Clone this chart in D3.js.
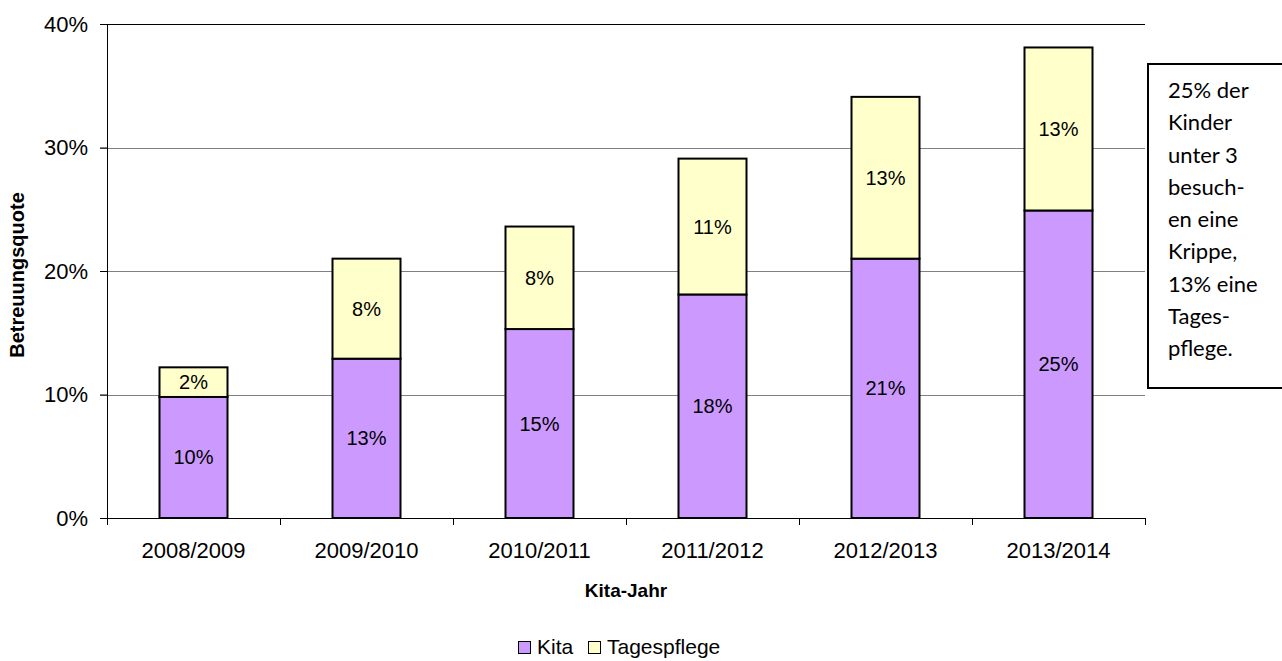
<!DOCTYPE html>
<html>
<head>
<meta charset="utf-8">
<script src="https://cdn.jsdelivr.net/npm/d3@7"></script>
<style>
  body { margin: 0; background: #fff; }
  svg text { font-family: "Liberation Sans", Arial, sans-serif; }
</style>
</head>
<body>
<div id="chart"></div>
<script>
// DATA
var years = ["2008/2009", "2009/2010", "2010/2011", "2011/2012", "2012/2013", "2013/2014"];
var kita = [9.8, 12.9, 15.3, 18.1, 21.0, 24.9];
var tagespflege = [2.4, 8.1, 8.3, 11.0, 13.1, 13.2];
var kitaLabels = ["10%", "13%", "15%", "18%", "21%", "25%"];
var tagesLabels = ["2%", "8%", "8%", "11%", "13%", "13%"];
var yTicks = [0, 10, 20, 30, 40];
var noteLines = ["25% der", "Kinder", "unter 3", "besuch-", "en eine", "Krippe,", "13% eine", "Tages-", "pflege."];

var seriesNames = ["Kita", "Tagespflege"];
var colors = { Kita: "#cc99ff", Tagespflege: "#ffffcc" };

// CHART SETUP
var W = 1282, H = 661;
var margin = { top: 24, left: 107, right: 137, bottom: 143 };
var width = W - margin.left - margin.right,
  height = H - margin.top - margin.bottom;

var svg = d3.select("#chart").append("svg")
  .attr("width", W).attr("height", H);

var g = svg.append("g")
  .attr("transform", "translate(" + margin.left + "," + margin.top + ")");

var rows = years.map(function (y, i) {
  return { year: y, Kita: kita[i], Tagespflege: tagespflege[i], i: i };
});
var stacked = d3.stack().keys(seriesNames)(rows);

var xScale = d3.scaleBand().domain(years).range([0, width]).paddingInner(0).paddingOuter(0);
var yScale = d3.scaleLinear().domain([0, 40]).range([height, 0]);
var barW = 68;

// GRIDLINES
g.selectAll(".grid").data(yTicks.filter(function (d) { return d > 0; }))
  .enter().append("line")
  .attr("x1", -7).attr("x2", width)
  .attr("y1", function (d) { return Math.round(yScale(d)) + 0.5; })
  .attr("y2", function (d) { return Math.round(yScale(d)) + 0.5; })
  .attr("stroke", function (d) { return d === 40 ? "#000" : "#808080"; })
  .attr("stroke-width", 1);

// BARS
var layers = g.selectAll(".layer").data(stacked).enter().append("g")
  .attr("fill", function (d) { return colors[d.key]; });

layers.selectAll("rect").data(function (d) { return d; }).enter().append("rect")
  .attr("x", function (d) { return xScale(d.data.year) + xScale.bandwidth() / 2 - barW / 2; })
  .attr("y", function (d) { return yScale(d[1]); })
  .attr("width", barW)
  .attr("height", function (d) { return yScale(d[0]) - yScale(d[1]); })
  .attr("stroke", "#000")
  .attr("stroke-width", 2);

// BAR LABELS
layers.selectAll("text").data(function (d) {
    return d.map(function (p) { p.key = d.key; return p; });
  }).enter().append("text")
  .attr("x", function (d) { return xScale(d.data.year) + xScale.bandwidth() / 2; })
  .attr("y", function (d) { return (yScale(d[0]) + yScale(d[1])) / 2; })
  .attr("dy", "0.35em")
  .attr("text-anchor", "middle")
  .attr("fill", "#000")
  .style("font-size", "20px")
  .text(function (d) {
    return d.key === "Kita" ? kitaLabels[d.data.i] : tagesLabels[d.data.i];
  });

// Y AXIS
var yAxis = d3.axisLeft(yScale).tickValues(yTicks)
  .tickFormat(function (d) { return d + "%"; })
  .tickSize(7).tickPadding(12);
var yg = g.append("g").call(yAxis);
yg.select(".domain").attr("stroke", "#000");
yg.selectAll("line").attr("stroke", "#000");
yg.selectAll("text").style("font-size", "22px").attr("fill", "#000")
  .style("font-family", "'Liberation Sans', Arial, sans-serif");

// X AXIS
var xAxis = d3.axisBottom(xScale).tickSize(0).tickPadding(24);
var xg = g.append("g").attr("transform", "translate(0," + height + ")").call(xAxis);
xg.select(".domain").attr("stroke", "#000").attr("d", "M0.5,0.5H" + width);
xg.selectAll("text").style("font-size", "22px").attr("fill", "#000")
  .style("font-family", "'Liberation Sans', Arial, sans-serif");
xg.selectAll(".sep").data(d3.range(years.length + 1)).enter().append("line")
  .attr("x1", function (i) { return Math.round(i * xScale.bandwidth()) + 0.5; })
  .attr("x2", function (i) { return Math.round(i * xScale.bandwidth()) + 0.5; })
  .attr("y1", 0).attr("y2", 7).attr("stroke", "#000");

// AXIS TITLES
svg.append("text")
  .attr("transform", "translate(24," + 275 + ") rotate(-90)")
  .attr("text-anchor", "middle")
  .style("font-size", "20px").style("font-weight", "bold")
  .text("Betreuungsquote");

svg.append("text")
  .attr("x", margin.left + width / 2).attr("y", 597)
  .attr("text-anchor", "middle")
  .style("font-size", "19px").style("font-weight", "bold")
  .text("Kita-Jahr");

// LEGEND
var legend = svg.append("g").attr("transform", "translate(518,641)");
var lx = [0, 70];
seriesNames.forEach(function (name, i) {
  legend.append("rect").attr("x", lx[i] + 0.5).attr("y", 0.5)
    .attr("width", 12).attr("height", 12)
    .attr("fill", colors[name]).attr("stroke", "#000").attr("stroke-width", 1);
  legend.append("text").attr("x", lx[i] + 19).attr("y", 13)
    .style("font-size", "21px").text(name);
});

// NOTE BOX
var note = svg.append("g");
note.append("rect").attr("x", 1148).attr("y", 64)
  .attr("width", 140).attr("height", 324)
  .attr("fill", "#fff").attr("stroke", "#000").attr("stroke-width", 2);
note.selectAll("text").data(noteLines).enter().append("text")
  .attr("x", 1168)
  .attr("y", function (d, i) { return 98 + i * 32.25; })
  .style("font-family", "Lato, Carlito, Calibri, sans-serif")
  .style("font-size", "22px")
  .text(function (d) { return d; });
</script>
</body>
</html>
